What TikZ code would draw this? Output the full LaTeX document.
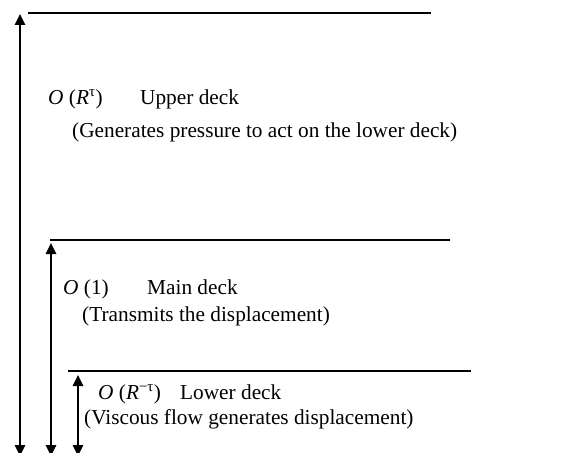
\documentclass[tikz,border=0pt]{standalone}
\usepackage{fontspec}
\setmainfont{Liberation Serif}
\usetikzlibrary{arrows.meta}
\begin{document}
\begin{tikzpicture}[x=1pt,y=-1pt,
  deckline/.style={line width=1.2pt},
  scalearrow/.style={line width=1.6pt,{Triangle[length=11pt,width=10.5pt]}-{Triangle[length=11pt,width=10.5pt]}},
  label/.style={anchor=base west,inner sep=0pt,font=\fontsize{21.3}{25}\selectfont}]
\useasboundingbox (0,0) rectangle (564,452);

% deck boundaries
\coordinate (l1a) at (28,13);  \coordinate (l1b) at (431,13);
\coordinate (l2a) at (50,240); \coordinate (l2b) at (450,240);
\coordinate (l3a) at (68,371); \coordinate (l3b) at (471,371);
\draw[deckline] (l1a) -- (l1b);
\draw[deckline] (l2a) -- (l2b);
\draw[deckline] (l3a) -- (l3b);

% thickness scales of the decks (lower tips run off the bottom edge)
\coordinate (s1t) at (20,14);  \coordinate (s1b) at (20,456);
\coordinate (s2t) at (51,243); \coordinate (s2b) at (51,456);
\coordinate (s3t) at (78,375); \coordinate (s3b) at (78,456);
\draw[scalearrow] (s1b) -- (s1t);
\draw[scalearrow] (s2b) -- (s2t);
\draw[scalearrow] (s3b) -- (s3t);

% upper deck
\node[label] (uo) at (48,104) {\textit{O} (\textit{R}\textsuperscript{τ})};
\node[label] (un) at (140,104) {Upper deck};
\node[label] (ud) at (72,137) {(Generates pressure to act on the lower deck)};

% main deck
\node[label] (mo) at (63,294) {\textit{O} (1)};
\node[label] (mn) at (147,294) {Main deck};
\node[label] (md) at (82,321) {(Transmits the displacement)};

% lower deck
\node[label] (lo) at (98,399) {\textit{O} (\textit{R}\textsuperscript{−τ})};
\node[label] (ln) at (180,399) {Lower deck};
\node[label] (ld) at (84,424) {(Viscous flow generates displacement)};
\end{tikzpicture}
\end{document}
